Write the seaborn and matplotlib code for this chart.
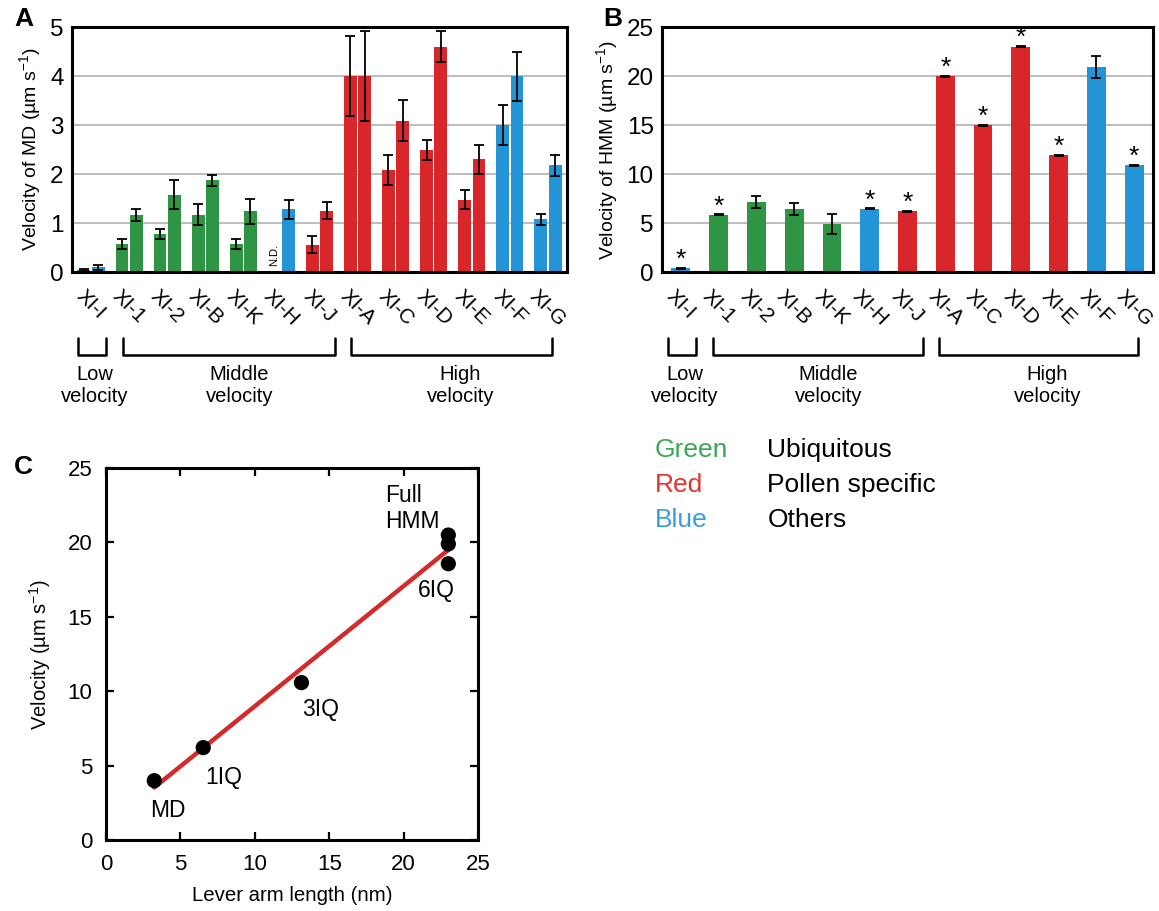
import numpy as np
import pandas as pd
import matplotlib.pyplot as plt
import seaborn as sns

sns.set_theme(style="white")
plt.rcParams["font.family"] = ["Liberation Sans", "DejaVu Sans"]
plt.rcParams["mathtext.fontset"] = "custom"
plt.rcParams["mathtext.rm"] = "Liberation Sans"
plt.rcParams["mathtext.default"] = "regular"
for key in ["text.color", "axes.labelcolor", "xtick.color", "ytick.color"]:
    plt.rcParams[key] = "black"

# ---- data ----
genes = ["XI-I", "XI-1", "XI-2", "XI-B", "XI-K", "XI-H", "XI-J",
         "XI-A", "XI-C", "XI-D", "XI-E", "XI-F", "XI-G"]
groups = ["Others", "Ubiquitous", "Ubiquitous", "Ubiquitous", "Ubiquitous", "Others",
          "Pollen specific", "Pollen specific", "Pollen specific", "Pollen specific",
          "Pollen specific", "Others", "Others"]

# panel A: two MD constructs per myosin (first XI-H not determined)
md_v1 = [0.05, 0.58, 0.78, 1.17, 0.58, np.nan, 0.56, 4.0, 2.08, 2.49, 1.48, 3.0, 1.08]
md_e1 = [0.02, 0.10, 0.10, 0.22, 0.10, np.nan, 0.17, 0.82, 0.31, 0.20, 0.20, 0.41, 0.11]
md_v2 = [0.10, 1.17, 1.58, 1.87, 1.24, 1.28, 1.25, 4.0, 3.09, 4.60, 2.30, 4.0, 2.18]
md_e2 = [0.05, 0.12, 0.30, 0.12, 0.25, 0.20, 0.17, 0.92, 0.42, 0.31, 0.30, 0.50, 0.21]

# panel B: HMM
hmm_v = [0.4, 5.85, 7.14, 6.46, 4.93, 6.46, 6.2, 20.0, 15.0, 23.0, 11.9, 20.9, 10.9]
hmm_e = [0.05, 0.05, 0.6, 0.6, 1.0, 0.05, 0.05, 0.05, 0.05, 0.05, 0.05, 1.1, 0.05]
hmm_sig = [True, True, False, False, False, True, True, True, True, True, True, False, True]

# panel C
lever_nm = [3.24, 6.53, 13.13, 23.0, 23.0, 23.0]
lever_vel = [3.99, 6.21, 10.58, 20.5, 19.9, 18.57]

palette = {"Ubiquitous": "#2e9545", "Pollen specific": "#d9262a", "Others": "#2394d6"}
legend_rows = [("Green", "#3aa655", "Ubiquitous"),
               ("Red", "#e5332e", "Pollen specific"),
               ("Blue", "#3d9ddb", "Others")]

fig = plt.figure(figsize=(11.59, 9.11), dpi=100)
axA = fig.add_axes([0.0621, 0.7014, 0.4271, 0.2689])
axB = fig.add_axes([0.5712, 0.7014, 0.4236, 0.2689])
axC = fig.add_axes([0.0915, 0.0779, 0.321, 0.4083])


def style_bar_axes(ax, ymax, step, ylabel):
    ax.set_xlim(-0.5, len(genes) - 0.5)
    ax.set_ylim(0, ymax)
    ax.set_yticks(np.arange(0, ymax + 1, step))
    ax.yaxis.grid(True, color="#b8b8b8", lw=1.3)
    ax.set_axisbelow(True)
    ax.tick_params(length=0, labelsize=17.5, pad=6)
    ax.set_xticks(range(len(genes)))
    ax.set_xticklabels(genes, rotation=-45, ha="center", fontsize=15)
    ax.tick_params(axis="x", pad=10)
    ax.set_xlabel("")
    ax.set_ylabel(ylabel, fontsize=14, labelpad=5)
    for s in ax.spines.values():
        s.set_color("black")
        s.set_linewidth(2.2)
    # velocity brackets
    tr = ax.get_xaxis_transform()
    for x0, x1, tx, txt in [(-0.34, 0.39, 0.1, "Low\nvelocity"),
                            (0.84, 6.42, 3.9, "Middle\nvelocity"),
                            (6.84, 12.1, 9.7, "High\nvelocity")]:
        ax.plot([x0, x0, x1, x1], [-0.27, -0.34, -0.34, -0.27], transform=tr,
                clip_on=False, color="black", lw=1.8)
        ax.text(tx, -0.38, txt, transform=tr, ha="center", va="top",
                fontsize=14.5, linespacing=1.2)


# ---- panel A ----
df_md = pd.DataFrame({"gene": genes * 2,
                      "rep": ["a"] * len(genes) + ["b"] * len(genes),
                      "v": md_v1 + md_v2})
sns.barplot(data=df_md.fillna(0), x="gene", y="v", hue="rep", order=genes,
            hue_order=["a", "b"], errorbar=None, width=0.75, gap=0.1,
            palette=["0.5", "0.5"], saturation=1, legend=False, linewidth=0, ax=axA)
for cont, vals, errs in zip(axA.containers, [md_v1, md_v2], [md_e1, md_e2]):
    xs = [b.get_x() + b.get_width() / 2 for b in cont]
    for b, g in zip(cont, groups):
        b.set_facecolor(palette[g])
    axA.errorbar(xs, vals, yerr=errs, fmt="none", ecolor="black",
                 elinewidth=1.3, capsize=3.5, capthick=1.3, zorder=4)
nd_bar = axA.containers[0][genes.index("XI-H")]
axA.text(nd_bar.get_x() + nd_bar.get_width() / 2, 0.35, "N.D.", rotation=90,
         ha="center", va="center", fontsize=8)
style_bar_axes(axA, 5, 1, "Velocity of MD (µm s$^{-1}$)")

# ---- panel B ----
df_hmm = pd.DataFrame({"gene": genes, "group": groups, "v": hmm_v, "e": hmm_e})
sns.barplot(data=df_hmm, x="gene", y="v", hue="group", order=genes, palette=palette,
            errorbar=None, width=0.5, saturation=1, legend=False, dodge=False,
            linewidth=0, ax=axB)
axB.errorbar(range(len(genes)), hmm_v, yerr=hmm_e, fmt="none", ecolor="black",
             elinewidth=1.3, capsize=3.5, capthick=1.3, zorder=4)
for i, (v, e, s) in enumerate(zip(hmm_v, hmm_e, hmm_sig)):
    if s:
        axB.text(i, v + e + 0.8, "*", ha="center", va="center", fontsize=19)
style_bar_axes(axB, 25, 5, "Velocity of HMM (µm s$^{-1}$)")

# ---- panel C ----
sns.regplot(x=lever_nm, y=lever_vel, ci=None, scatter=False, truncate=True,
            line_kws=dict(color="#d42a2a", lw=3.2), ax=axC)
sns.scatterplot(x=lever_nm, y=lever_vel, color="black", s=120, edgecolor="none",
                zorder=3, ax=axC)
axC.set_xlim(0, 25)
axC.set_ylim(0, 25)
axC.set_xticks(range(0, 26, 5))
axC.set_yticks(range(0, 26, 5))
axC.tick_params(direction="in", length=6, width=1.6, bottom=True, left=True,
                top=True, right=True, labelsize=16, pad=10, color="black")
for s in axC.spines.values():
    s.set_color("black")
    s.set_linewidth(2.2)
axC.set_xlabel("Lever arm length (nm)", fontsize=14.7, labelpad=8)
axC.set_ylabel("Velocity (µm s$^{-1}$)", fontsize=14.5, labelpad=10)
for x, y, t, va in [(18.75, 23.9, "Full\nHMM", "top"), (20.97, 16.8, "6IQ", "center"),
                    (13.17, 8.8, "3IQ", "center"), (6.65, 4.23, "1IQ", "center"),
                    (2.96, 2.0, "MD", "center")]:
    axC.text(x, y, t, ha="left", va=va, fontsize=16.5, linespacing=1.15)

# ---- colour key ----
for k, (name, col, desc) in enumerate(legend_rows):
    y = 0.506 - k * 0.0385
    fig.text(0.565, y, name, color=col, fontsize=19, va="center")
    fig.text(0.662, y, desc, color="black", fontsize=19, va="center")

# panel letters
for x, y, t in [(0.0207, 0.9786, "A"), (0.529, 0.9786, "B"), (0.0198, 0.4874, "C")]:
    fig.text(x, y, t, fontsize=19, fontweight="bold", ha="center", va="center")

fig.savefig("out.png", dpi=100)
